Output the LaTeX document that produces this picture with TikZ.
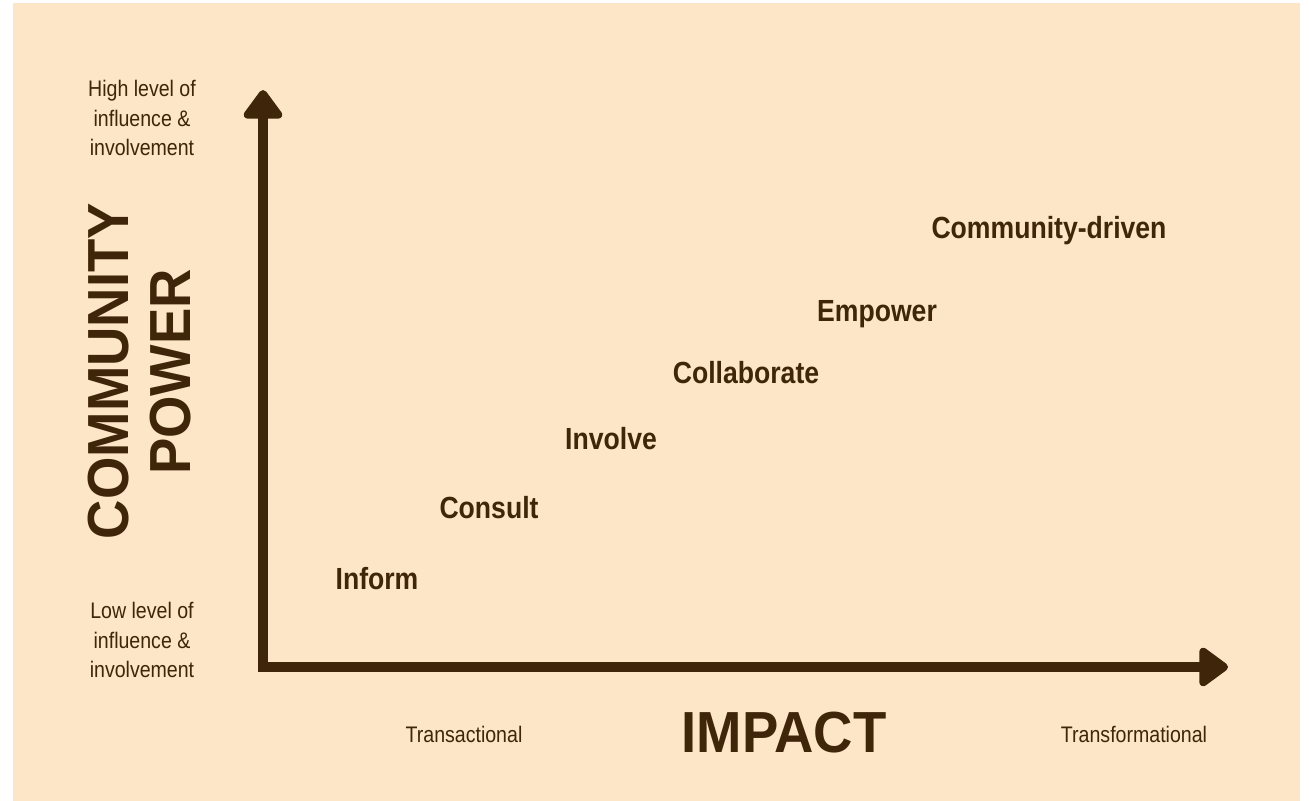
\documentclass[tikz,border=0pt]{standalone}
\usepackage{fontspec}
\setmainfont{Liberation Sans}
\newfontfamily\condfont[FakeStretch=0.87]{Liberation Sans}
\newfontfamily\headfont[FakeStretch=0.94]{Liberation Sans}
\usepackage{xcolor}
\usetikzlibrary{arrows.meta}

\definecolor{peach}{HTML}{FDE5C7}
\definecolor{cocoa}{HTML}{3F2509}

\begin{document}
\begin{tikzpicture}[
    x=0.02cm, y=-0.02cm,
    axis/.style={draw=cocoa, line width=5.6pt, {Triangle[length=18pt, width=25pt, round]}-{Triangle[length=18pt, width=25pt, round]}},
    level/.style={text=cocoa, anchor=base, inner sep=0pt, font=\condfont\bfseries\fontsize{17.4}{20}\selectfont},
    note/.style={text=cocoa, inner sep=0pt, align=center, font=\condfont\fontsize{12.8}{17}\selectfont},
    heading/.style={text=cocoa, anchor=base, inner sep=0pt, font=\headfont\bfseries\fontsize{33}{36}\selectfont}
]
% background
\fill[white] (0,0) rectangle (1309,801);
\fill[peach] (13,3) rectangle (1300,801);

% axes
\coordinate (ytip) at (263,90);
\coordinate (origin) at (263,667);
\coordinate (xtip) at (1228,667);
\draw[axis] (ytip) -- (origin) -- (xtip);

% axis titles
\node[heading, rotate=90] (community) at (128,371) {COMMUNITY};
\node[heading, rotate=90] (power) at (190,372) {POWER};
\node[heading] (impact) at (784,752) {IMPACT};

% axis notes
\node[note] (high) at (142,118) {High level of\\influence \&\\involvement};
\node[note] (low) at (142,640) {Low level of\\influence \&\\involvement};
\node[note, anchor=base] (transactional) at (464,742) {Transactional};
\node[note, anchor=base] (transformational) at (1134,742) {Transformational};

% levels
\node[level] (inform) at (377,589) {Inform};
\node[level] (consult) at (489,518) {Consult};
\node[level] (involve) at (611,449) {Involve};
\node[level] (collaborate) at (746,383) {Collaborate};
\node[level] (empower) at (877,321) {Empower};
\node[level] (driven) at (1049,238) {Community-driven};
\end{tikzpicture}
\end{document}
